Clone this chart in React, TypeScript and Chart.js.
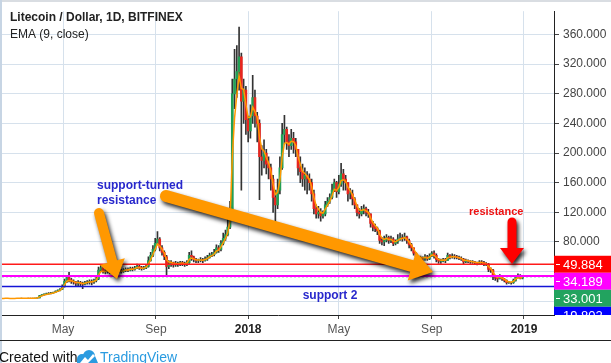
import React, { useEffect, useRef } from 'react';
import { Chart, registerables } from 'chart.js';
Chart.register(...registerables);

// One candle per 3 days; day 0 = 2017-02-07
const STEP_DAYS = 3;
const EMA_DAYS = 9;
const FIRST_OPEN = 3.8;

const closes = [
  3.8, 3.8, 3.9, 3.9, 3.8, 3.8, 3.8, 3.9, 3.9, 4.0, 3.9, 3.9, 4.0, 4.0, 4.0, 4.2, 4.5,
  7.5, 8.5, 9.5, 10, 10.5, 11, 12, 13, 14.5, 16, 20, 27, 32, 29,
  27, 26, 24, 25, 24, 23, 25, 26, 27, 26, 28, 30,
  42, 45, 41, 40, 42, 39, 41, 40, 42, 41, 40, 42, 43, 42, 44, 43, 45, 47, 45, 44, 45, 47,
  55, 62, 70, 78, 84, 72, 66, 60, 47,
  50, 52, 49, 51, 50, 52, 51, 50, 52, 62, 60, 56, 55, 55, 56, 55, 57, 59, 62, 63,
  66, 72, 70, 78, 85, 90, 100, 125,
  280, 300, 310, 330, 270, 285, 245, 230, 250, 275, 250, 240, 195,
  190, 200, 185, 180, 165, 140, 130, 150, 180, 225, 232, 215, 210, 220, 215, 205, 180, 175, 165, 170, 165, 160, 145, 125, 118, 120,
  115, 118, 130, 135, 140, 150, 160, 148, 158, 172, 165, 160, 145, 145, 138, 130, 120, 118, 122, 125, 120, 118, 105, 100, 98, 95, 82, 80, 82, 86, 82, 84, 78, 80, 84, 86, 85, 87, 82, 76, 72, 65, 60, 57,
  58, 57, 60, 57, 61, 65, 62, 56, 54, 54, 56, 55, 62, 60, 61, 60, 59, 58, 57, 53, 55, 54, 53, 53, 52, 51, 53, 52, 50, 50, 43, 42, 33, 31, 30, 33, 30, 28, 25, 25, 25, 28, 33, 34, 31, 33.001,
];
const highs = [
  3.9, 3.9, 4.0, 4.0, 3.9, 3.9, 3.9, 4.0, 4.0, 4.1, 4.0, 4.0, 4.1, 4.1, 4.1, 4.3, 4.7,
  8, 9, 10, 11, 11.5, 12, 12.5, 14, 15.5, 17, 22, 30, 35, 39,
  31, 29, 27, 28, 27, 26, 27, 28, 29, 29, 30, 33,
  46, 49, 46, 43, 44, 43, 43, 42, 44, 43, 43, 44, 45, 45, 46, 46, 47, 50, 49, 47, 47, 49,
  60, 66, 75, 85, 94, 86, 75, 68, 62,
  55, 55, 53, 54, 53, 54, 54, 53, 55, 66, 68, 61, 58, 57, 59, 58, 60, 62, 65, 66,
  70, 76, 75, 82, 92, 96, 110, 135,
  300, 340, 345, 370, 335, 300, 290, 250, 265, 305, 285, 255, 245,
  210, 218, 205, 195, 185, 170, 150, 165, 195, 240, 251, 235, 225, 232, 228, 220, 205, 195, 185, 180, 175, 172, 165, 150, 130, 128,
  125, 122, 135, 140, 145, 158, 165, 162, 170, 186, 178, 170, 160, 152, 150, 140, 130, 125, 128, 130, 127, 124, 118, 108, 104, 100, 96, 86, 88, 90, 88, 88, 86, 83, 90, 92, 90, 92, 88, 84, 78, 72, 66, 61,
  61, 60, 63, 62, 64, 67, 68, 64, 58, 57, 58, 58, 65, 63, 64, 63, 62, 61, 60, 58, 57, 56, 55, 55, 54, 53, 55, 55, 54, 52, 51, 45, 43, 34, 33, 36, 34, 31, 29, 27, 26, 30, 34, 37, 36, 35,
];
const lows = [
  3.7, 3.7, 3.8, 3.8, 3.7, 3.7, 3.7, 3.8, 3.8, 3.9, 3.8, 3.8, 3.9, 3.9, 3.9, 4.0, 4.1,
  4.4, 7, 8, 9, 9.5, 10, 11, 12, 13, 14, 15.5, 19, 25, 26,
  24, 23, 21, 20, 21, 17, 22, 23, 23, 22, 24, 26,
  29, 40, 38, 37, 38, 37, 38, 37, 38, 39, 38, 39, 40, 40, 41, 41, 42, 44, 43, 42, 43, 44,
  46, 54, 60, 68, 76, 68, 62, 56, 33,
  44, 47, 46, 47, 47, 48, 48, 47, 48, 51, 55, 53, 52, 52, 53, 52, 54, 55, 58, 60,
  61, 65, 66, 68, 76, 82, 88, 98,
  120, 260, 275, 285, 150, 240, 225, 215, 220, 240, 235, 215, 137,
  170, 180, 172, 165, 150, 120, 107, 125, 145, 178, 212, 205, 195, 205, 200, 195, 170, 160, 155, 150, 145, 150, 135, 118, 112, 112,
  108, 112, 115, 128, 132, 138, 148, 140, 145, 155, 150, 150, 135, 138, 130, 125, 115, 112, 115, 118, 115, 113, 100, 95, 94, 90, 78, 76, 75, 80, 78, 79, 75, 76, 78, 82, 81, 82, 78, 72, 68, 62, 57, 52,
  53, 54, 55, 55, 56, 60, 58, 53, 51, 51, 53, 52, 55, 57, 58, 57, 57, 56, 55, 50, 52, 52, 51, 51, 50, 49, 50, 50, 48, 48, 40, 39, 29, 28, 26, 30, 28, 26, 23, 24, 23, 24, 27, 31, 30, 30,
];

const xTickDays = [83, 206, 328, 448, 571, 693];
const xTickLabels = ['May', 'Sep', '2018', 'May', 'Sep', '2019'];
const yTickValues = [0, 40, 80, 120, 160, 200, 240, 280, 320, 360];

const levelValues = [49.884, 34.189, 33.001, 19.802];
const levelLineColors = ['#ff1a1a', '#ff00ff', '#3a9d68', '#1414d6'];
const levelBoxColors = ['#ff0000', '#ff00ff', '#22a35f', '#0000ff'];
const levelWidths = [1.5, 2, 1, 1.5];
const levelDashes = [[], [], [2, 2], []];

const X_MIN = 2.28;
const X_MAX = 732.7;
const Y_MIN = -18.6;
const Y_MAX = 391.5;

const UP = '#22a055';
const DOWN = '#e8261f';
const WICK = '#333333';
const GRID = '#d6e1ec';
const AXIS_FONT = 'Liberation Sans, Arial, sans-serif';

function drawArrow(ctx: CanvasRenderingContext2D, x1: number, y1: number, x2: number, y2: number,
  w: number, headLen: number, headW: number, color: string) {
  const ang = Math.atan2(y2 - y1, x2 - x1);
  const len = Math.hypot(x2 - x1, y2 - y1);
  ctx.save();
  ctx.translate(x1, y1);
  ctx.rotate(ang);
  ctx.shadowColor = 'rgba(0,0,0,0.85)';
  ctx.shadowBlur = 4;
  ctx.shadowOffsetX = 2;
  ctx.shadowOffsetY = 3;
  ctx.fillStyle = color;
  ctx.beginPath();
  ctx.moveTo(0, -w / 2);
  ctx.lineTo(len - headLen, -w / 2);
  ctx.lineTo(len - headLen, -headW / 2);
  ctx.lineTo(len, 0);
  ctx.lineTo(len - headLen, headW / 2);
  ctx.lineTo(len - headLen, w / 2);
  ctx.lineTo(0, w / 2);
  ctx.arc(0, 0, w / 2, Math.PI / 2, Math.PI * 1.5);
  ctx.closePath();
  ctx.fill();
  ctx.restore();
}

const decorPlugin = {
  id: 'decor',
  afterDraw(chart: any) {
    const ctx: CanvasRenderingContext2D = chart.ctx;
    const area = chart.chartArea;
    const ys = chart.scales.y;
    const W = chart.width;
    ctx.save();

    // top strip and left band
    ctx.fillStyle = '#d9dde2';
    ctx.fillRect(0, 0, W, 2);
    ctx.fillStyle = '#c7d5e4';
    ctx.fillRect(0, 0, 2, chart.height);

    // title
    ctx.fillStyle = '#222';
    ctx.textBaseline = 'alphabetic';
    ctx.textAlign = 'left';
    ctx.font = 'bold 12px ' + AXIS_FONT;
    ctx.fillText('Litecoin / Dollar, 1D, BITFINEX', 10, 21);
    ctx.font = '12px ' + AXIS_FONT;
    ctx.fillText('EMA (9, close)', 10, 38);

    // annotations text
    ctx.fillStyle = '#2828cc';
    ctx.font = 'bold 12px ' + AXIS_FONT;
    ctx.fillText('support-turned', 97, 189);
    ctx.fillText('resistance', 97, 204);
    ctx.textAlign = 'center';
    ctx.fillText('support 2', 330, 299);
    ctx.fillStyle = '#ee1111';
    ctx.textAlign = 'left';
    ctx.font = 'bold 11px ' + AXIS_FONT;
    ctx.fillText('resistance', 469, 215);

    // arrows
    drawArrow(ctx, 99, 213, 117, 279, 10, 18, 26, '#ff9800');
    drawArrow(ctx, 166, 196, 433, 272, 12, 22, 30, '#ff9800');
    drawArrow(ctx, 512, 222, 512, 264, 9, 16, 24, '#ff0000');

    // price boxes on the axis
    const order = levelValues.map((v, k) => ({ v, k })).sort((a, b) => b.v - a.v);
    let prevBottom = -Infinity;
    const h = 17;
    order.forEach(({ v, k }) => {
      const cy = ys.getPixelForValue(v);
      const top = Math.max(cy - h / 2, prevBottom);
      prevBottom = top + h;
      ctx.save();
      ctx.beginPath();
      ctx.rect(area.right, 0, W - area.right, area.bottom);
      ctx.clip();
      ctx.fillStyle = levelBoxColors[k];
      ctx.fillRect(area.right, top, W - area.right, h);
      ctx.fillStyle = '#fff';
      ctx.fillRect(area.right + 2, Math.round(top + h / 2), 4, 1);
      ctx.font = '13px ' + AXIS_FONT;
      ctx.textBaseline = 'middle';
      ctx.textAlign = 'left';
      ctx.fillText(v.toFixed(3), 563, top + h / 2 + 1);
      ctx.restore();
    });

    // footer
    ctx.fillStyle = '#222';
    ctx.fillRect(0, 340, W, 1);
    ctx.textAlign = 'left';
    ctx.textBaseline = 'alphabetic';
    ctx.font = '14px ' + AXIS_FONT;
    ctx.fillStyle = '#111';
    ctx.fillText('Created with', -1, 362);
    // logo
    ctx.fillStyle = '#2a9be0';
    ctx.beginPath();
    ctx.arc(82, 359, 5, Math.PI, 0);
    ctx.arc(89, 356, 6, Math.PI, 0);
    ctx.lineTo(98, 363);
    ctx.lineTo(77, 363);
    ctx.closePath();
    ctx.fill();
    ctx.fillStyle = '#fff';
    ctx.beginPath();
    ctx.moveTo(80, 363);
    ctx.lineTo(85, 357);
    ctx.lineTo(88, 360);
    ctx.lineTo(93, 354);
    ctx.lineTo(95, 356);
    ctx.lineTo(88, 363);
    ctx.closePath();
    ctx.fill();
    ctx.fillStyle = '#2a9be0';
    ctx.fillText('TradingView', 100, 362);

    ctx.restore();
  },
};

export default function App() {
  const ref = useRef<HTMLCanvasElement | null>(null);
  useEffect(() => {
    document.body.style.margin = '0';
    const canvas = ref.current;
    if (!canvas) return;
    const xs = closes.map((_, i) => i * STEP_DAYS + 1);
    const opens = closes.map((_, i) => (i === 0 ? FIRST_OPEN : closes[i - 1]));
    const alpha = 2 / (EMA_DAYS / STEP_DAYS + 1);
    const ema: number[] = [];
    closes.forEach((c, i) => ema.push(i === 0 ? c : alpha * c + (1 - alpha) * ema[i - 1]));

    const levelSets = levelValues.map((v, k) => ({
      type: 'line' as const,
      data: [{ x: X_MIN, y: v }, { x: X_MAX, y: v }],
      borderColor: levelLineColors[k],
      borderWidth: levelWidths[k],
      borderDash: levelDashes[k],
      pointRadius: 0,
      order: 0,
    }));

    const chart = new Chart(canvas, {
      type: 'bar',
      data: {
        datasets: [
          ...levelSets,
          {
            type: 'line',
            data: xs.map((x, i) => ({ x, y: ema[i] })),
            borderColor: '#ff9800',
            borderWidth: 1.5,
            pointRadius: 0,
            tension: 0,
            order: 1,
          },
          {
            type: 'bar',
            data: xs.map((x, i) => ({ x, y: [opens[i], closes[i]] })),
            backgroundColor: closes.map((c, i) => (c >= opens[i] ? UP : DOWN)),
            barThickness: 2,
            grouped: false,
            order: 2,
          },
          {
            type: 'bar',
            data: xs.map((x, i) => ({ x, y: [lows[i], highs[i]] })),
            backgroundColor: WICK,
            barThickness: 1,
            grouped: false,
            order: 3,
          },
        ] as any,
      },
      options: {
        responsive: false,
        animation: false,
        devicePixelRatio: 1,
        layout: { padding: { left: 2, top: 2, right: 0, bottom: 0 } },
        plugins: { legend: { display: false }, tooltip: { enabled: false } },
        scales: {
          x: {
            type: 'linear',
            min: X_MIN,
            max: X_MAX,
            offset: false,
            grid: { color: GRID, tickColor: '#444', tickLength: 4, offset: false },
            border: { display: true, color: '#222', width: 1 },
            afterBuildTicks: (s: any) => { s.ticks = xTickDays.map((v) => ({ value: v })); },
            afterFit: (s: any) => { s.height = 48; },
            ticks: {
              autoSkip: false,
              maxRotation: 0,
              padding: 3,
              callback: (_v: any, i: number) => xTickLabels[i] ?? '',
              font: (c: any) => ({
                family: AXIS_FONT,
                size: 12,
                weight: /^\d{4}$/.test(xTickLabels[c.index] ?? '') ? 'bold' : 'normal',
              }),
              color: (c: any) => (/^\d{4}$/.test(xTickLabels[c.index] ?? '') ? '#222' : '#555'),
            },
          },
          y: {
            type: 'linear',
            position: 'right',
            min: Y_MIN,
            max: Y_MAX,
            grid: { color: GRID, tickColor: '#444', tickLength: 5 },
            border: { display: true, color: '#222', width: 1 },
            afterBuildTicks: (s: any) => { s.ticks = yTickValues.map((v) => ({ value: v })); },
            afterFit: (s: any) => { s.width = 57; },
            ticks: {
              padding: 4,
              color: '#444',
              font: { family: AXIS_FONT, size: 12 },
              callback: (v: any) => (Number(v) >= 80 ? Number(v).toFixed(3) : ''),
            },
          },
        },
      } as any,
      plugins: [decorPlugin],
    });
    return () => chart.destroy();
  }, []);

  return (
    <div style={{ position: 'fixed', left: 0, top: 0 }}>
      <canvas ref={ref} width={611} height={363} style={{ display: 'block', width: 611, height: 363 }} />
    </div>
  );
}
